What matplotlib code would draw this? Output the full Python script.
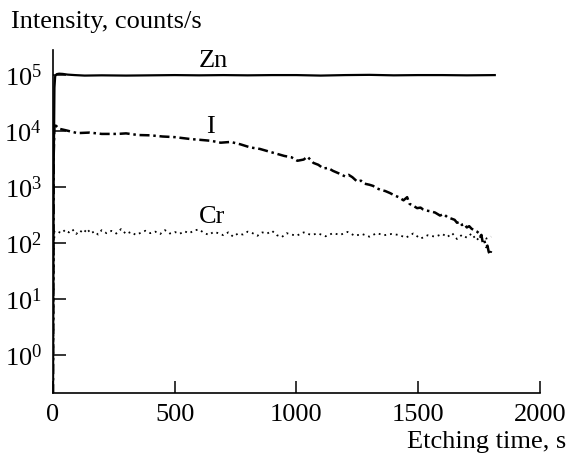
import matplotlib
matplotlib.use("Agg")
from matplotlib import pyplot as plt
from matplotlib.ticker import NullLocator

plt.rcParams['font.family'] = ['Liberation Serif', 'DejaVu Serif']
plt.rcParams['mathtext.fontset'] = 'custom'
plt.rcParams['mathtext.rm'] = 'Liberation Serif'
plt.rcParams['mathtext.it'] = 'Liberation Serif:italic'

# Zn signal (counts/s)
zn_t = [0, 3, 6, 9, 15, 25, 40, 60, 90, 130, 200, 300, 400, 500, 600, 700, 800,
        900, 1000, 1100, 1200, 1300, 1400, 1500, 1600, 1700, 1815]
zn_i = [0.2, 2e3, 6e4, 9.6e4, 1.04e5, 1.06e5, 1.05e5, 1.02e5, 1.0e5, 0.98e5,
        0.99e5, 0.98e5, 0.99e5, 1.0e5, 0.99e5, 1.0e5, 0.99e5, 1.0e5, 1.0e5,
        0.98e5, 1.0e5, 1.01e5, 0.99e5, 1.0e5, 1.0e5, 0.99e5, 1.0e5]

# I signal
i_t = [0, 3, 6, 12, 25, 50, 100, 150, 200, 266, 300, 350, 400, 450, 500, 566,
       600, 650, 689, 730, 770, 811, 850, 880, 922, 950, 980, 1004, 1030, 1045,
       1070, 1090, 1111, 1130, 1150, 1175, 1200, 1215, 1230, 1250, 1265, 1280,
       1300, 1315, 1330, 1350, 1365, 1385, 1400, 1420, 1440, 1455, 1465, 1475,
       1496, 1510, 1520, 1535, 1550, 1570, 1590, 1605, 1620, 1640, 1650, 1660,
       1670, 1680, 1690, 1700, 1710, 1720, 1730, 1742, 1750, 1755, 1760, 1766,
       1772, 1780, 1785, 1790, 1795, 1800]
i_i = [0.2, 4e3, 1.4e4, 1.25e4, 1.1e4, 1.04e4, 9.2e3, 9.4e3, 8.9e3, 8.9e3,
       9.1e3, 8.5e3, 8.4e3, 8.0e3, 7.8e3, 7.2e3, 7.0e3, 6.7e3, 6.2e3, 6.4e3,
       5.8e3, 5.1e3, 4.8e3, 4.4e3, 3.9e3, 3.6e3, 3.4e3, 2.95e3, 3.1e3, 3.5e3,
       2.7e3, 2.5e3, 2.15e3, 2.2e3, 1.95e3, 1.75e3, 1.55e3, 1.65e3, 1.5e3,
       1.25e3, 1.3e3, 1.15e3, 1.1e3, 1.05e3, 0.95e3, 0.88e3, 0.85e3, 0.78e3,
       0.72e3, 0.66e3, 0.58e3, 0.66e3, 0.5e3, 0.48e3, 0.42e3, 0.43e3, 0.40e3,
       0.38e3, 0.37e3, 0.35e3, 0.31e3, 0.33e3, 0.29e3, 0.27e3, 0.26e3, 0.23e3,
       0.24e3, 0.21e3, 0.22e3, 0.19e3, 0.2e3, 0.18e3, 0.17e3, 0.16e3, 0.15e3,
       0.13e3, 0.14e3, 0.10e3, 0.11e3, 0.085e3, 0.09e3, 0.07e3, 0.062e3,
       0.072e3]

# Cr signal
cr_t = [0, 3, 6, 20, 35, 50, 65, 80, 95, 110, 125, 140, 155, 170, 185, 200,
        220, 240, 260, 280, 300, 320, 340, 360, 380, 400, 420, 440, 460, 480,
        500, 520, 540, 560, 580, 600, 620, 640, 660, 680, 700, 720, 740, 760,
        780, 800, 820, 840, 860, 880, 900, 920, 940, 960, 980, 1000, 1030,
        1060, 1090, 1120, 1150, 1180, 1210, 1240, 1270, 1300, 1330, 1360, 1390,
        1420, 1450, 1480, 1510, 1540, 1570, 1600, 1620, 1640, 1660, 1680, 1700,
        1720, 1740, 1760, 1780, 1800]
cr_i = [0.2, 50, 165, 160, 150, 172, 155, 175, 145, 168, 150, 180, 148, 162,
        142, 170, 150, 165, 148, 178, 145, 158, 140, 152, 166, 150, 160, 145,
        170, 148, 158, 146, 162, 150, 168, 175, 152, 140, 158, 150, 138, 155,
        130, 148, 142, 160, 150, 135, 155, 148, 165, 138, 128, 150, 142, 135,
        155, 140, 148, 132, 150, 140, 158, 135, 145, 130, 150, 138, 145, 140,
        125, 148, 120, 138, 130, 145, 128, 150, 118, 140, 125, 148, 112, 138,
        120, 130]

fig = plt.figure(figsize=(5.7, 4.53), dpi=100)
ax = fig.add_axes([0.093, 0.1325, 0.854, 0.757])

ax.plot(zn_t, zn_i, color='black', lw=1.6, ls='-')
ax.plot(i_t, i_i, color='black', lw=1.8, ls=(0, (4, 1.5, 1, 1.5)))
ax.plot(cr_t, cr_i, color='black', lw=1.3, ls=(0, (1, 2.2)))

ax.set_yscale('log')
ax.set_xlim(0, 2000)
ax.set_ylim(0.21, 2.8e5)
ax.set_xticks([0, 500, 1000, 1500, 2000])
ax.set_yticks([1, 10, 100, 1e3, 1e4, 1e5])
ax.yaxis.set_minor_locator(NullLocator())

for s in ['top', 'right']:
    ax.spines[s].set_visible(False)
for s in ['left', 'bottom']:
    ax.spines[s].set_linewidth(1.2)
ax.tick_params(direction='in', length=9, width=1.1, pad=8, labelsize=19)

ax.text(660, 1.75e5, 'Zn', fontsize=19, ha='center', va='center')
ax.text(648, 1.2e4, 'I', fontsize=19, ha='center', va='center')
ax.text(655, 290, 'Cr', fontsize=19, ha='center', va='center')

fig.text(11 / 570, 1 - 22 / 453, 'Intensity, counts/s', fontsize=19,
         ha='left', va='center')
fig.text(566 / 570, 1 - 442 / 453, 'Etching time, s', fontsize=19,
         ha='right', va='center')

fig.savefig('out.png', dpi=100)
